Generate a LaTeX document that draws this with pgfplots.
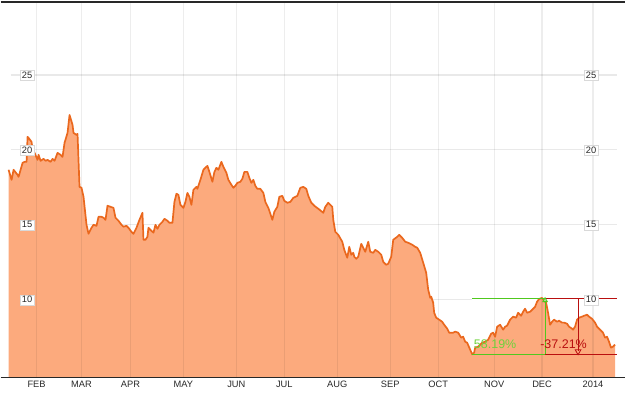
\documentclass[border=0pt]{standalone}
\usepackage{pgfplots}
\usepackage{pgfplotstable}
\pgfplotsset{compat=1.18}
\usepackage{fontspec}
\setmainfont{Liberation Sans}
\definecolor{fillc}{RGB}{252,170,125}
\definecolor{linec}{RGB}{234,104,30}
\definecolor{gridc}{RGB}{233,233,233}
\definecolor{gr}{RGB}{80,200,30}
\definecolor{grtext}{RGB}{110,210,60}
\definecolor{rd}{RGB}{185,15,15}
\definecolor{axc}{RGB}{40,40,40}
\tikzset{xl/.style={text=axc, font=\fontsize{9.3}{10}\selectfont},
  yl/.style={fill=white, draw=black!15, inner sep=1.7pt, text=axc, font=\fontsize{9.3}{10}\selectfont}}
\pgfplotstableread{
x y
8 18.67
11 18.00
13 18.67
17 18.33
18 18.20
22 19.13
24 19.20
26 19.20
27 20.87
28 20.80
31 20.53
32 20.00
34 19.80
37 19.33
38 19.67
40 19.27
43 19.40
45 19.27
47 19.33
50 19.20
52 19.40
54 19.27
57 19.80
60 19.67
62 19.53
64 20.47
67 21.13
69 22.33
72 21.67
73 21.13
76 21.00
77 21.07
79 17.53
81 17.47
83 16.87
86 15.00
88 14.40
91 14.80
93 15.00
96 14.93
98 15.53
101 15.53
103 15.47
105 15.33
107 16.27
110 16.20
113 16.13
115 15.47
118 15.27
121 15.00
123 14.87
126 14.93
128 14.80
131 14.53
133 14.40
136 14.80
139 15.33
142 15.80
143 14.00
145 14.00
147 14.20
148 14.80
151 14.60
153 14.47
155 15.00
157 14.73
159 15.00
162 15.20
164 15.40
167 15.27
169 15.13
172 15.13
174 16.53
176 17.07
178 17.00
180 16.33
183 16.13
185 16.53
187 17.13
189 16.87
191 16.33
193 17.33
196 17.53
197 17.40
200 18.00
203 18.67
206 18.87
207 18.93
209 18.53
212 17.87
214 18.53
216 18.80
218 18.67
221 19.20
223 18.87
226 18.47
228 18.00
231 17.67
233 17.47
235 17.60
237 17.80
240 17.87
242 18.07
244 18.53
247 18.53
249 18.13
251 17.80
253 18.00
255 17.60
257 17.40
260 17.40
263 17.13
265 16.53
268 16.13
272 15.33
274 15.87
277 16.20
279 16.87
282 16.93
284 16.60
287 16.47
290 16.53
293 16.80
297 16.93
300 17.47
303 17.53
306 17.40
308 16.93
311 16.47
314 16.27
318 16.07
323 15.80
325 16.20
328 16.47
332 16.20
333 15.33
335 14.53
338 14.33
342 13.87
344 13.33
347 12.80
349 13.53
351 13.00
353 13.13
354 12.87
356 12.73
358 12.87
361 13.73
363 13.47
365 13.20
368 13.87
370 13.20
373 13.13
375 13.33
378 13.20
381 13.00
383 12.53
386 12.33
388 12.40
391 12.87
393 14.00
397 14.20
399 14.33
402 14.13
405 13.87
408 13.80
412 13.67
415 13.53
417 13.47
420 13.13
423 12.47
426 11.80
428 10.67
430 10.13
431 10.20
433 9.80
434 9.13
436 8.80
439 8.67
442 8.53
444 8.33
447 8.07
449 7.80
453 7.80
455 7.87
458 7.80
461 7.47
463 7.53
465 7.20
467 7.13
470 6.67
472 6.36
474 6.47
475 6.80
478 6.87
482 7.13
485 7.20
488 7.33
491 7.73
493 7.80
495 7.53
497 8.20
500 8.33
503 8.00
505 8.20
507 8.27
510 8.67
513 8.87
516 8.80
518 9.13
521 8.93
523 9.20
525 9.40
527 9.13
530 9.20
533 9.40
535 9.53
537 9.87
539 10.05
542 10.12
544 9.93
546 9.80
548 9.13
550 8.33
552 8.53
554 8.67
557 8.53
559 8.60
562 8.47
564 8.47
567 8.40
569 8.20
572 8.07
573 8.00
575 8.20
577 8.67
579 8.80
582 8.87
584 8.93
587 9.00
589 8.87
592 8.73
595 8.47
597 8.20
600 8.00
603 7.80
605 7.47
607 7.53
609 7.20
611 6.80
613 6.87
615 7.00
}\price
\begin{document}
\begin{tikzpicture}
\begin{axis}[
  scale only axis, width=629pt, height=376pt,
  xmin=0, xmax=629, ymin=4.8, ymax=29.866667,
  axis line style={draw=none}, ticks=none,
  clip mode=individual,
]
% invisible bounding box 629 x 394
\path (axis cs:0,30) rectangle (axis cs:629,3.733333);
% horizontal grid
\pgfplotsinvokeforeach{15,20,25}{
  \draw[gridc, line width=1.2pt] (axis cs:10,#1) -- (axis cs:617,#1);
}
\draw[gridc, line width=1.2pt] (axis cs:10,10) -- (axis cs:472,10);
% fill
\addplot[draw=none, fill=fillc] table {\price} \closedcycle;
% vertical grid
\pgfplotsinvokeforeach{36,81,130,183,236,284,337,390,438,494,542,593}{
  \draw[black, opacity=0.07, line width=1.2pt] (axis cs:#1,4.8) -- (axis cs:#1,29.866667);
}
% curve
\addplot[linec, line width=1.7pt, line join=round] table {\price};
% frame lines
\draw[axc, line width=1.2pt] (axis cs:0,29.866667) -- (axis cs:625,29.866667);
\draw[axc, line width=1.2pt] (axis cs:0,4.8) -- (axis cs:625,4.8);
% annotations
\addplot[gr, line width=1.2pt] coordinates {(472,10.1) (545,10.1)};
\addplot[gr, line width=1.1pt] coordinates {(472,6.36) (545,6.36)};
\addplot[gr, line width=1.1pt] coordinates {(545,6.36) (545,10.1)};
\addplot[rd, line width=1.2pt] coordinates {(545,10.1) (617,10.1)};
\addplot[rd, line width=1.1pt] coordinates {(545,6.36) (617,6.36)};
\addplot[rd, line width=1.1pt] coordinates {(578,10.1) (578,6.6)};
\addplot[rd, only marks, mark=triangle, mark size=3.3pt, mark options={rotate=180, line width=0.8pt}] coordinates {(578,6.55)};
\addplot[gr, only marks, mark=triangle*, mark size=2.6pt, mark options={fill=gr!50, line width=0.8pt}] coordinates {(545,9.96)};
\node[text=grtext, font=\fontsize{12.5}{13}\selectfont] at (axis cs:495,7.0) {58.19\%};
\node[text=rd, font=\fontsize{12.5}{13}\selectfont] at (axis cs:563.5,7.0) {-37.21\%};
% y labels
\pgfplotsinvokeforeach{10,15,20,25}{
  \node[yl] at (axis cs:26.5,#1) {#1};
  \node[yl] at (axis cs:591,#1) {#1};
}
% x labels
\node[xl] at (axis cs:36,4.3333) {FEB};
\node[xl] at (axis cs:81,4.3333) {MAR};
\node[xl] at (axis cs:130,4.3333) {APR};
\node[xl] at (axis cs:183,4.3333) {MAY};
\node[xl] at (axis cs:236,4.3333) {JUN};
\node[xl] at (axis cs:284,4.3333) {JUL};
\node[xl] at (axis cs:337,4.3333) {AUG};
\node[xl] at (axis cs:390,4.3333) {SEP};
\node[xl] at (axis cs:438,4.3333) {OCT};
\node[xl] at (axis cs:494,4.3333) {NOV};
\node[xl] at (axis cs:542,4.3333) {DEC};
\node[xl] at (axis cs:593,4.3333) {2014};
\end{axis}
\end{tikzpicture}
\end{document}
